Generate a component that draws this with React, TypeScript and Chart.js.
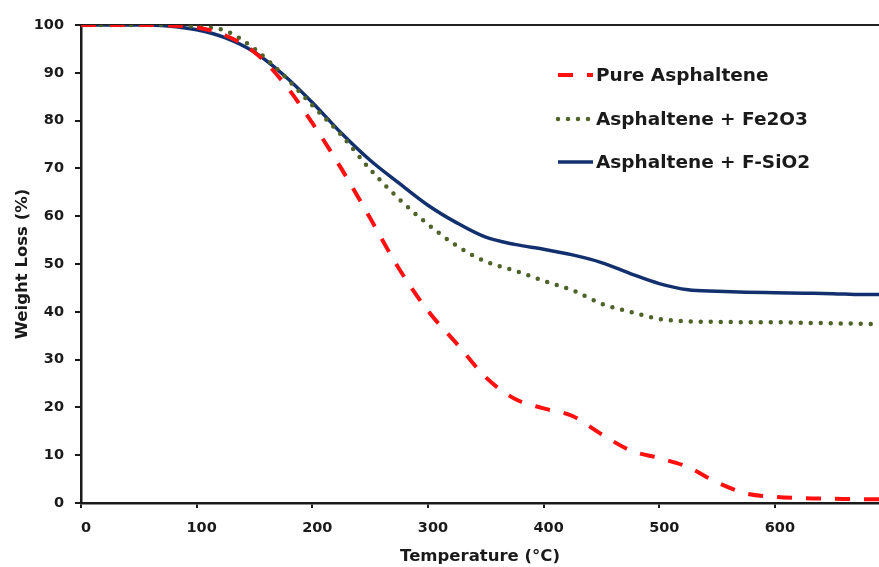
import React, { useEffect, useRef } from "react";
import { Chart, registerables } from "chart.js";

Chart.register(...registerables);

const temperatures = [0, 25, 50, 75, 100, 125, 150, 175, 200, 225, 250, 275, 300, 325, 350, 375, 400, 425, 450, 475, 500, 525, 550, 575, 600, 625, 650, 675, 690];
const pureAsphaltene = [100, 100, 100, 99.9, 99.5, 97.8, 94.3, 88.0, 79.5, 70.0, 59.6, 49.0, 40.2, 33.3, 26.3, 21.8, 19.8, 18.2, 14.4, 11.0, 9.4, 7.5, 4.3, 2.0, 1.3, 1.0, 0.9, 0.8, 0.8];
const asphalteneFe2O3 = [100, 100, 100, 100, 99.6, 98.8, 95.0, 89.5, 83.2, 77.0, 69.8, 63.6, 58.3, 53.8, 50.5, 48.6, 46.5, 44.5, 41.7, 40.0, 38.5, 38.0, 37.9, 37.8, 37.8, 37.7, 37.6, 37.5, 37.4];
const asphalteneFSiO2 = [100, 100, 100, 99.8, 99.0, 97.3, 94.3, 89.6, 83.8, 77.4, 71.7, 66.9, 62.3, 58.6, 55.6, 54.1, 53.1, 51.9, 50.3, 48.0, 45.9, 44.6, 44.3, 44.1, 44.0, 43.9, 43.8, 43.6, 43.6];

const seriesLabels = ["Pure Asphaltene", "Asphaltene + Fe2O3", "Asphaltene + F-SiO2"];
const xTickValues = [0, 100, 200, 300, 400, 500, 600];
const yTickValues = [0, 10, 20, 30, 40, 50, 60, 70, 80, 90, 100];

const FONT = "'DejaVu Sans', 'Open Sans', sans-serif";

const legendPlugin = {
  id: "customLegend",
  afterDraw(chart: any) {
    const ctx = chart.ctx;
    const rows = [75, 119, 162];
    chart.data.datasets.forEach((ds: any, i: number) => {
      const y = rows[i];
      ctx.save();
      ctx.strokeStyle = ds.borderColor;
      ctx.lineWidth = ds.borderWidth;
      ctx.lineCap = ds.borderCapStyle || "butt";
      ctx.setLineDash(ds.borderDash || []);
      ctx.beginPath();
      ctx.moveTo(558, y);
      ctx.lineTo(593, y);
      ctx.stroke();
      ctx.setLineDash([]);
      ctx.fillStyle = "#1a1a1a";
      ctx.font = `bold 18.5px ${FONT}`;
      ctx.textBaseline = "middle";
      ctx.textAlign = "left";
      ctx.fillText(ds.label, 596, y + 1);
      ctx.restore();
    });
  },
};

export default function App() {
  const ref = useRef<HTMLCanvasElement>(null);
  useEffect(() => {
    if (!ref.current) return;
    const mk = (vals: number[]) => temperatures.map((t, i) => ({ x: t, y: vals[i] }));
    const chart = new Chart(ref.current, {
      type: "line",
      data: {
        datasets: [
          {
            label: seriesLabels[0],
            data: mk(pureAsphaltene),
            borderColor: "#FF1010",
            borderWidth: 4,
            borderDash: [15, 14],
            borderCapStyle: "butt",
            pointRadius: 0,
            cubicInterpolationMode: "monotone",
            fill: false,
          },
          {
            label: seriesLabels[1],
            data: mk(asphalteneFe2O3),
            borderColor: "#4F6228",
            borderWidth: 4.5,
            borderDash: [0, 10],
            borderCapStyle: "round",
            pointRadius: 0,
            cubicInterpolationMode: "monotone",
            fill: false,
          },
          {
            label: seriesLabels[2],
            data: mk(asphalteneFSiO2),
            borderColor: "#13306E",
            borderWidth: 3.5,
            pointRadius: 0,
            cubicInterpolationMode: "monotone",
            fill: false,
          },
        ],
      },
      options: {
        animation: false,
        responsive: false,
        layout: { padding: { top: 25, right: 0, left: 0, bottom: 0 } },
        plugins: { legend: { display: false }, tooltip: { enabled: false } },
        scales: {
          x: {
            type: "linear",
            min: 0,
            max: 690,
            afterBuildTicks: (s: any) => {
              s.ticks = xTickValues.map((v) => ({ value: v }));
            },
            afterFit: (s: any) => {
              s.height = 64;
            },
            ticks: {
              color: "#1a1a1a",
              font: { family: FONT, size: 14.5, weight: "bold" },
              padding: 12,
              labelOffset: 5,
              maxRotation: 0,
            },
            grid: {
              display: true,
              drawOnChartArea: false,
              drawTicks: true,
              tickLength: 5,
              color: "#1a1a1a",
              lineWidth: 2,
            },
            border: { display: true, color: "#1a1a1a", width: 2.5 },
            title: {
              display: true,
              text: "Temperature (°C)",
              color: "#1a1a1a",
              font: { family: FONT, size: 16.5, weight: "bold" },
              padding: { top: 0, bottom: 0 },
            },
          },
          x2: {
            type: "linear",
            position: "top",
            min: 0,
            max: 690,
            afterFit: (s: any) => {
              s.height = 0;
            },
            ticks: { display: false },
            grid: { display: false, drawTicks: false },
            border: { display: true, color: "#222", width: 2 },
          },
          y: {
            min: 0,
            max: 100,
            afterBuildTicks: (s: any) => {
              s.ticks = yTickValues.map((v) => ({ value: v }));
            },
            afterFit: (s: any) => {
              s.width = 81;
            },
            ticks: {
              color: "#1a1a1a",
              font: { family: FONT, size: 14.5, weight: "bold" },
              padding: 11,
            },
            grid: {
              display: true,
              drawOnChartArea: false,
              drawTicks: true,
              tickLength: 6,
              color: "#1a1a1a",
              lineWidth: 2,
            },
            border: { display: true, color: "#1a1a1a", width: 2.5 },
            title: {
              display: true,
              text: "Weight Loss (%)",
              color: "#1a1a1a",
              font: { family: FONT, size: 16.5, weight: "bold" },
              padding: { top: 13, bottom: 0 },
            },
          },
        },
      },
      plugins: [legendPlugin],
    } as any);
    return () => chart.destroy();
  }, []);
  return (
    <div style={{ position: "fixed", left: 0, top: 0, width: 879, height: 567, background: "#fff" }}>
      <canvas ref={ref} width={879} height={567} style={{ display: "block" }} />
    </div>
  );
}
